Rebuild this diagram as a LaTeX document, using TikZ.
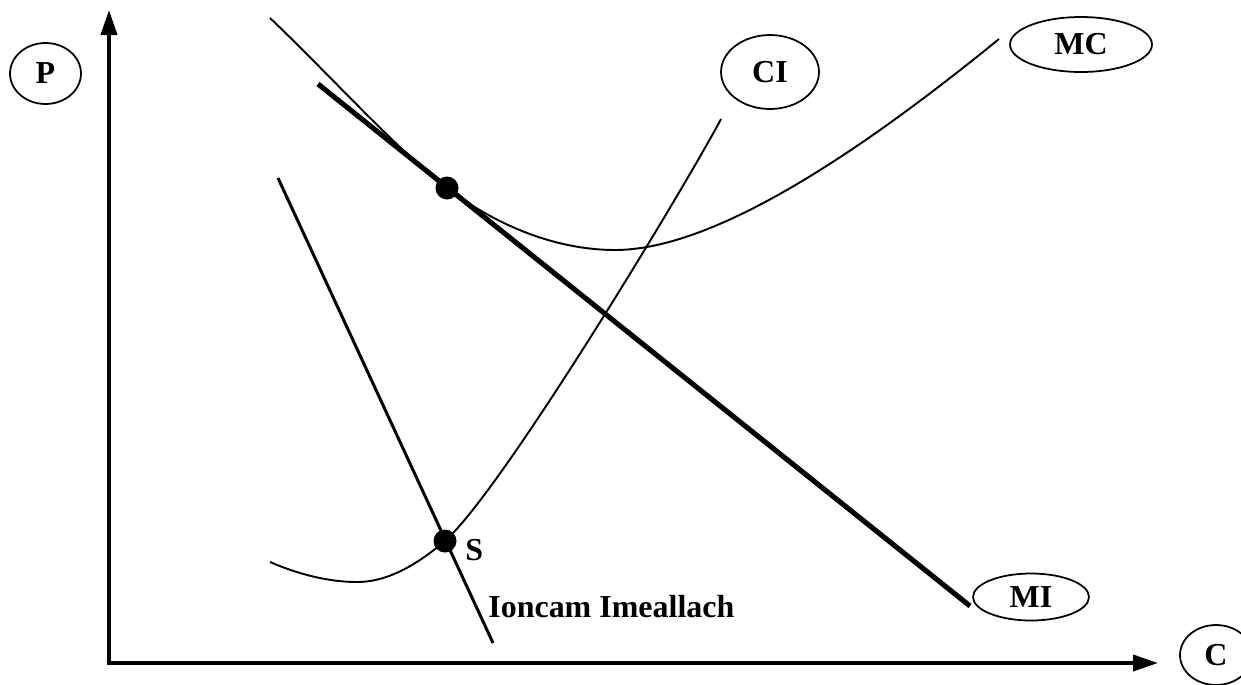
\documentclass[tikz,border=0pt]{standalone}
\usepackage{fontspec}
\setmainfont{Liberation Serif}
\usetikzlibrary{arrows.meta,shapes.geometric}
\begin{document}
\begin{tikzpicture}[x=0.02cm,y=-0.02cm,
  lbl/.style={font=\bfseries\fontsize{18.2}{20}\selectfont},
  oval/.style={ellipse,draw,line width=1pt,inner sep=0pt,lbl},
  axis/.style={line width=2.2pt,-{Triangle[length=0.5cm,width=0.32cm]}},
  thincurve/.style={line width=1.1pt},
  dotmark/.style={circle,fill=black,inner sep=0pt,minimum size=0.46cm}]
\useasboundingbox (0,0) rectangle (1241,684);
% axes
\coordinate (O) at (109,663);
\coordinate (ytip) at (109,10);
\coordinate (xtip) at (1158,663);
\draw[axis] (109,665) -- (ytip);
\draw[axis] (107,663) -- (xtip);
% label ovals
\node[oval,minimum width=1.42cm,minimum height=1.22cm] (P) at (45.5,73.5) {P};
\node[oval,minimum width=2.84cm,minimum height=1.1cm] (MC) at (1081,44.5) {MC};
\node[oval,minimum width=1.96cm,minimum height=1.48cm] (CI) at (770,72) {CI};
\node[oval,minimum width=2.32cm,minimum height=0.94cm] (MI) at (1031,597) {MI};
\node[oval,minimum width=1.44cm,minimum height=1.2cm] (C) at (1216,655) {C};
% MI line
\coordinate (mi1) at (318,84);
\coordinate (mi2) at (970,606);
\draw[line width=2.9pt] (mi1) -- (mi2);
% Ioncam Imeallach line
\coordinate (im1) at (278,178);
\coordinate (im2) at (493,643);
\draw[line width=1.7pt] (im1) -- (im2);
% MC curve
\coordinate (mc0) at (270,18);
\coordinate (T) at (447,188);
\coordinate (mcmin) at (615,250);
\coordinate (mcend) at (999,39);
\draw[thincurve] (mc0) .. controls (330,75) and (395,148) .. (T)
  .. controls (505,232) and (565,250) .. (mcmin)
  .. controls (720,250) and (875,140) .. (mcend);
% CI curve
\coordinate (ci0) at (270,562);
\coordinate (cimin) at (357,582);
\coordinate (S) at (445,541);
\coordinate (ciend) at (721,119);
\draw[thincurve] (ci0) .. controls (300,575) and (330,582) .. (cimin)
  .. controls (390,582) and (420,562) .. (S)
  .. controls (505,487) and (690,178) .. (ciend);
% points
\node[dotmark] (dT) at (T) {};
\node[dotmark] (dS) at (S) {};
\node[lbl,anchor=west,inner sep=0pt] (Slbl) at (465,550) {S};
\node[lbl,anchor=base west,inner sep=0pt] (ioncam) at (488,617) {Ioncam Imeallach};
\end{tikzpicture}
\end{document}
